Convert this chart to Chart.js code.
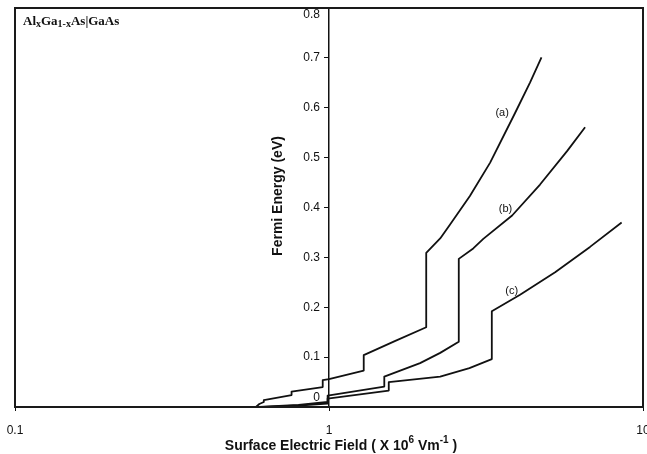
<!DOCTYPE html>
<html>
<head>
<meta charset="utf-8">
<script src="https://cdn.jsdelivr.net/npm/chart.js@4.4.1/dist/chart.umd.min.js"></script>
<style>
    html, body { margin: 0; padding: 0; background: #fff; }
</style>
</head>
<body>
<canvas id="myChart" width="647" height="454"></canvas>
<script>
// tick values
const xTicks = [0.1, 1, 10];
const yTicks = [0, 0.1, 0.2, 0.3, 0.4, 0.5, 0.6, 0.7, 0.8];

// curve (a)
const fieldA = [0.585, 0.60, 0.62, 0.62, 0.76, 0.76, 0.955, 0.955, 1.0, 1.29, 1.29, 1.62, 2.04, 2.04, 2.26, 2.43, 2.81, 3.26, 3.91, 4.37, 4.75];
const energyA = [0.0, 0.006, 0.010, 0.014, 0.024, 0.031, 0.040, 0.054, 0.056, 0.073, 0.104, 0.132, 0.160, 0.309, 0.338, 0.366, 0.423, 0.490, 0.589, 0.651, 0.701];

// curve (b)
const fieldB = [0.60, 0.80, 0.99, 0.99, 1.5, 1.5, 1.95, 2.26, 2.59, 2.59, 2.88, 3.10, 3.83, 4.70, 5.73, 6.54];
const energyB = [0.0, 0.004, 0.010, 0.023, 0.041, 0.061, 0.088, 0.1085, 0.131, 0.297, 0.318, 0.337, 0.384, 0.446, 0.513, 0.561];

// curve (c)
const fieldC = [0.62, 0.80, 0.99, 0.99, 1.55, 1.55, 2.26, 2.8, 3.30, 3.30, 4.06, 5.25, 6.78, 8.55];
const energyC = [0.0, 0.003, 0.007, 0.017, 0.033, 0.050, 0.061, 0.078, 0.096, 0.192, 0.225, 0.270, 0.321, 0.370];

const curveNames = ['(a)', '(b)', '(c)'];

function toPoints(xs, ys) {
    return xs.map(function (x, i) { return { x: x, y: ys[i] }; });
}

function curve(xs, ys) {
    return {
        data: toPoints(xs, ys),
        showLine: true,
        borderColor: '#111',
        borderWidth: 1.8,
        borderJoinStyle: 'round',
        pointRadius: 0,
        tension: 0
    };
}

// where the curve names sit, in axis units
const namePos = [
    { x: 3.56, y: 0.589 },
    { x: 3.65, y: 0.397 },
    { x: 3.82, y: 0.232 }
];

const decorations = {
    id: 'decorations',
    afterDraw: function (chart) {
        const ctx = chart.ctx;
        const area = chart.chartArea;
        const xs = chart.scales.x;
        const ys = chart.scales.y;
        const axisX = xs.getPixelForValue(1);

        ctx.save();
        ctx.strokeStyle = '#1a1a1a';
        ctx.lineWidth = 2;
        ctx.strokeRect(area.left, area.top, area.right - area.left, area.bottom - area.top);

        // y tick labels, kept inside the frame at both ends
        ctx.fillStyle = '#111';
        ctx.font = '12px "Liberation Sans", Arial, sans-serif';
        ctx.textAlign = 'right';
        ctx.textBaseline = 'middle';
        yTicks.forEach(function (v) {
            let py = ys.getPixelForValue(v);
            py = Math.min(Math.max(py, area.top + 7), area.bottom - 9);
            ctx.fillText(v === 0 ? '0' : v.toFixed(1), axisX - 9, py);
        });

        // curve names
        ctx.font = '11px "Liberation Sans", Arial, sans-serif';
        ctx.textAlign = 'center';
        namePos.forEach(function (p, i) {
            ctx.fillText(curveNames[i], xs.getPixelForValue(p.x), ys.getPixelForValue(p.y));
        });

        // y axis title
        ctx.save();
        ctx.translate(axisX - 51, area.top + 188);
        ctx.rotate(-Math.PI / 2);
        ctx.font = 'bold 14px "Liberation Sans", Arial, sans-serif';
        ctx.textAlign = 'center';
        ctx.fillText('Fermi Energy (eV)', 0, 0);
        ctx.restore();

        // x axis title with superscripts
        const parts = [
            ['Surface Electric Field ( X 10', false],
            ['6', true],
            [' Vm', false],
            ['-1', true],
            [' )', false]
        ];
        const bigFont = 'bold 14px "Liberation Sans", Arial, sans-serif';
        const supFont = 'bold 10px "Liberation Sans", Arial, sans-serif';
        let total = 0;
        parts.forEach(function (p) {
            ctx.font = p[1] ? supFont : bigFont;
            total += ctx.measureText(p[0]).width;
        });
        let tx = axisX + 12 - total / 2;
        const base = 450;
        ctx.textAlign = 'left';
        ctx.textBaseline = 'alphabetic';
        parts.forEach(function (p) {
            ctx.font = p[1] ? supFont : bigFont;
            ctx.fillText(p[0], tx, p[1] ? base - 7 : base);
            tx += ctx.measureText(p[0]).width;
        });

        // material label, top left
        const mat = [
            ['Al', false], ['x', true], ['Ga', false], ['1-x', true], ['As|GaAs', false]
        ];
        let mx = area.left + 8;
        const mBase = area.top + 17;
        mat.forEach(function (p) {
            ctx.font = p[1] ? 'bold 10px "Liberation Serif", "Times New Roman", serif'
                            : 'bold 13px "Liberation Serif", "Times New Roman", serif';
            ctx.fillText(p[0], mx, p[1] ? mBase + 2 : mBase);
            mx += ctx.measureText(p[0]).width;
        });
        ctx.restore();
    }
};

const ctx = document.getElementById('myChart');
new Chart(ctx, {
    type: 'scatter',
    data: {
        datasets: [
            curve(fieldA, energyA),
            curve(fieldB, energyB),
            curve(fieldC, energyC)
        ]
    },
    options: {
        responsive: false,
        animation: false,
        devicePixelRatio: 1,
        layout: {
            padding: { left: 15, right: 4, top: 8, bottom: 0 }
        },
        plugins: {
            legend: { display: false },
            tooltip: { enabled: false }
        },
        scales: {
            x: {
                type: 'logarithmic',
                min: 0.1,
                max: 10,
                afterBuildTicks: function (s) {
                    s.ticks = xTicks.map(function (v) { return { value: v }; });
                },
                afterFit: function (s) {
                    s.height = 47;
                    s.paddingLeft = 0;
                    s.paddingRight = 0;
                },
                grid: {
                    drawOnChartArea: false,
                    color: '#111',
                    tickLength: 4
                },
                border: { color: '#111', width: 1.5 },
                ticks: {
                    color: '#111',
                    padding: 12,
                    maxRotation: 0,
                    autoSkip: false,
                    font: { family: '"Liberation Sans", Arial, sans-serif', size: 12 },
                    callback: function (v) { return String(v); }
                }
            },
            y: {
                min: 0,
                max: 0.8,
                position: { x: 1 },
                afterBuildTicks: function (s) {
                    s.ticks = yTicks.map(function (v) { return { value: v }; });
                },
                grid: {
                    drawOnChartArea: false,
                    color: '#111',
                    tickLength: 4
                },
                border: { color: '#111', width: 1.5 },
                ticks: { display: false }
            }
        }
    },
    plugins: [decorations]
});
</script>
</body>
</html>
